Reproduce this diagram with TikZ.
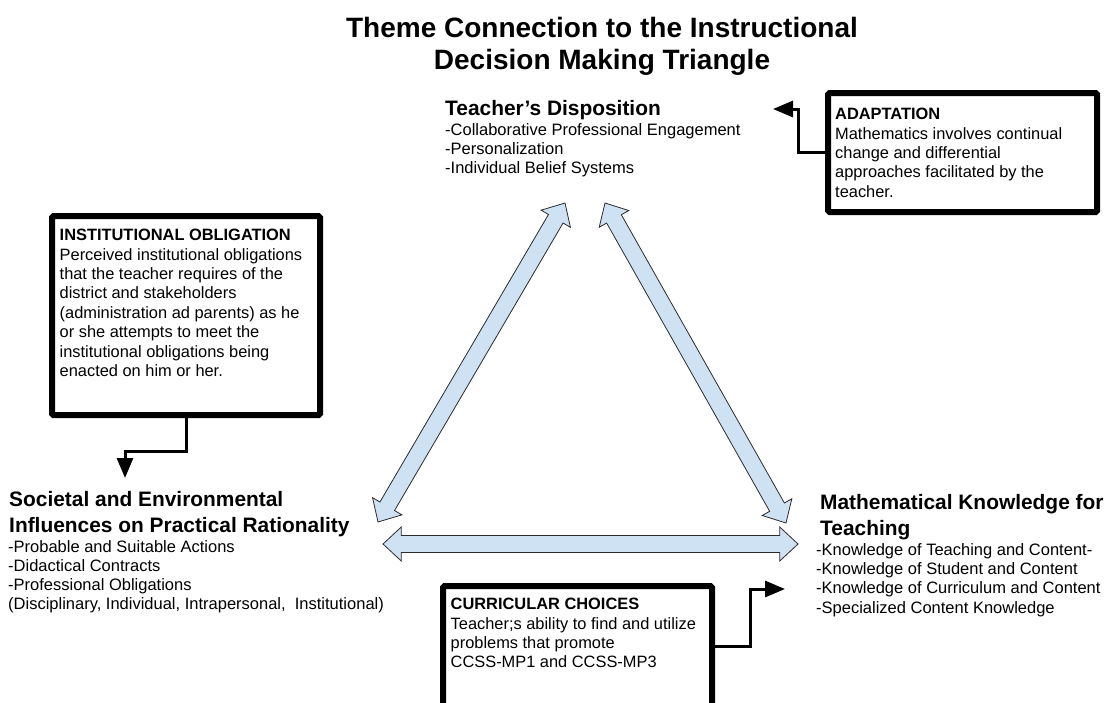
\documentclass[tikz,border=0pt]{standalone}
\usepackage{fontspec}
\setmainfont{Liberation Sans}
\usetikzlibrary{arrows.meta,calc,positioning,shapes.arrows}
\definecolor{linkfill}{HTML}{CFE2F3}
\definecolor{linkdraw}{HTML}{2B2B2B}

\begin{document}
\begin{tikzpicture}[x=1pt,y=-1pt,
    head/.style={inner sep=0pt,anchor=north west,align=left,font=\fontsize{20.9}{26}\selectfont\bfseries},
    items/.style={inner sep=0pt,align=left,font=\fontsize{16.5}{19.3}\selectfont},
    themebox/.style={draw,line width=6pt,rounded corners=1.5pt,inner sep=0pt},
    boxtext/.style={inner sep=0pt,align=left,font=\fontsize{16.4}{19.4}\selectfont},
    link/.style={double arrow,draw=linkdraw,fill=linkfill,line width=0.8pt,inner sep=8pt,minimum width=34pt,double arrow head extend=8.5pt,double arrow tip angle=86},
    feed/.style={-{Triangle[length=20pt,width=16pt]},line width=3pt}]
  \useasboundingbox (0,0) rectangle (1107,702);
  \node[font=\fontsize{28}{32}\selectfont\bfseries,align=center] (title) at (602,46) {Theme Connection to the Instructional\\Decision Making Triangle};

  % corners of the triangle
  \node[head] (tdhead) at (445,100) {Teacher's Disposition};
  \node[items,below right=3pt and 0pt of tdhead.south west] (tdlist) {-Collaborative Professional Engagement\\-Personalization\\-Individual Belief Systems};
  \node[head] (sehead) at (9,491) {Societal and Environmental\\Influences on Practical Rationality};
  \node[items,below right=3pt and -1pt of sehead.south west] (selist) {-Probable and Suitable Actions\\-Didactical Contracts\\-Professional Obligations\\(Disciplinary, Individual, Intrapersonal,\ \ Institutional)};
  \node[head] (mkhead) at (820,494) {Mathematical Knowledge for\\Teaching};
  \node[items,below right=3pt and -4pt of mkhead.south west] (mklist) {-Knowledge of Teaching and Content-\\-Knowledge of Student and Content\\-Knowledge of Curriculum and Content\\-Specialized Content Knowledge};

  % tips of the block arrows
  \coordinate (td-sw) at (565,203);
  \coordinate (td-se) at (605,203);
  \coordinate (se-ne) at (378,522);
  \coordinate (se-e) at (383,544);
  \coordinate (mk-nw) at (786,523);
  \coordinate (mk-w) at (798,544);
  \foreach \a/\u/\v in {tdse/se-ne/td-sw,tdmk/td-se/mk-nw,semk/se-e/mk-w}{
    \path let \p1=(\u), \p2=(\v), \n1={atan2(\y2-\y1,\x2-\x1)}, \n2={veclen(\x2-\x1,\y2-\y1)} in
      node[link,minimum height=\n2,rotate=\n1] (\a) at ($(\u)!0.5!(\v)$) {};
  }

  % theme boxes
  \node[themebox,minimum width=269pt,minimum height=119pt] (adapt) at (962.5,152.5) {};
  \node[boxtext,below right=18pt and 10pt of adapt.north west] (adapttext) {\textbf{ADAPTATION}\\Mathematics involves continual\\change and differential\\approaches facilitated by the\\teacher.};
  \node[themebox,minimum width=268pt,minimum height=199pt] (inst) at (186,315.5) {};
  \node[boxtext,below right=16pt and 10.5pt of inst.north west] (insttext) {\textbf{INSTITUTIONAL OBLIGATION}\\Perceived institutional obligations\\that the teacher requires of the\\district and stakeholders\\(administration ad parents) as he\\or she attempts to meet the\\institutional obligations being\\enacted on him or her.};
  \node[themebox,minimum width=269pt,minimum height=120pt] (curr) at (577.5,646) {};
  \node[boxtext,below right=15pt and 10.5pt of curr.north west] (currtext) {\textbf{CURRICULAR CHOICES}\\Teacher;s ability to find and utilize\\problems that promote\\CCSS-MP1 and CCSS-MP3};

  % feeds from the boxes
  \coordinate (adapt-end) at (773,109);
  \coordinate (inst-end) at (125,478);
  \coordinate (curr-end) at (785,589);
  \draw[feed] (adapt.west) -- ++(-27,0) |- (adapt-end);
  \draw[feed] (inst.south) -- ++(0,33) -| (inst-end);
  \draw[feed] (curr.east) -- ++(35,0) |- (curr-end);
\end{tikzpicture}
\end{document}
